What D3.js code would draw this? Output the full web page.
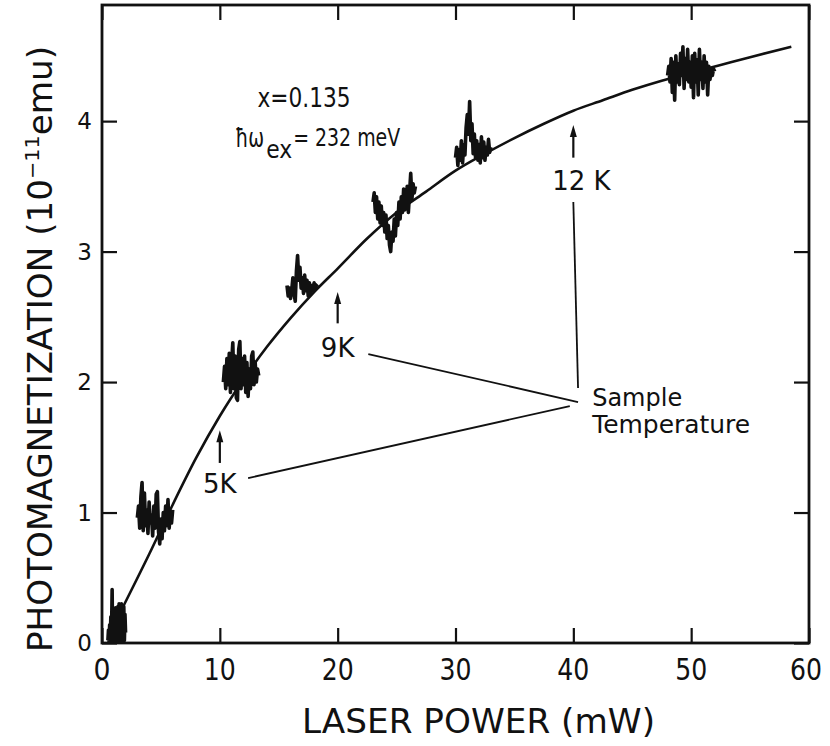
<!DOCTYPE html>
<html>
<head>
<meta charset="utf-8">
<script src="https://cdn.jsdelivr.net/npm/d3@7"></script>
<style>
    body { margin: 0; background: #fff; }
    text { font-family: "DejaVu Sans", sans-serif; fill: #111; }
</style>
</head>
<body>
<script>

    // axis ticks
    var xTicks = [0, 10, 20, 30, 40, 50, 60];
    var yTicks = [0, 1, 2, 3, 4];

    // smooth fitted curve (laser power mW, photomagnetization 1e-11 emu)
    var curveX = [1.8, 4, 6, 8, 10, 12, 14, 16, 18, 20, 22.5, 25, 27.5, 30, 32.5, 35, 37.5, 40, 42.5, 45, 47.5, 50, 52.5, 55, 58.5];
    var curveY = [0.28, 0.68, 1.06, 1.42, 1.74, 2.02, 2.27, 2.49, 2.69, 2.87, 3.10, 3.30, 3.46, 3.62, 3.75, 3.87, 3.98, 4.08, 4.16, 4.24, 4.31, 4.37, 4.43, 4.49, 4.57];

    // noisy measured traces, one per laser power
    var trace1X = [0.5, 0.55, 0.6, 0.65, 0.7, 0.75, 0.8, 0.86, 0.9, 0.95, 1.0, 1.05, 1.1, 1.15, 1.2, 1.25, 1.3, 1.35, 1.4, 1.45, 1.5, 1.55, 1.6, 1.65, 1.7, 1.75, 1.8, 1.85, 1.9, 1.95, 2.0];
    var trace1Y = [0.02, 0.1, 0.01, 0.14, 0.03, 0.2, 0.02, 0.41, 0.04, 0.22, 0.02, 0.24, 0.01, 0.27, 0.03, 0.25, 0.02, 0.28, 0.01, 0.3, 0.03, 0.27, 0.02, 0.3, 0.01, 0.26, 0.03, 0.28, 0.02, 0.22, 0.08];

    var trace2X = [3.0, 3.1, 3.2, 3.3, 3.4, 3.5, 3.6, 3.7, 3.8, 3.9, 4.0, 4.1, 4.2, 4.3, 4.4, 4.5, 4.6, 4.7, 4.8, 4.9, 5.0, 5.1, 5.2, 5.3, 5.4, 5.5, 5.6, 5.7, 5.8, 5.9, 6.0];
    var trace2Y = [0.96, 1.05, 0.88, 1.12, 1.23, 0.86, 1.15, 0.9, 1.02, 0.84, 1.08, 0.92, 0.98, 0.82, 1.05, 0.88, 1.14, 1.16, 0.85, 0.76, 0.95, 0.8, 1.0, 0.86, 1.05, 0.9, 1.1, 0.88, 1.0, 0.92, 1.02];

    var trace3X = [10.3, 10.4, 10.5, 10.6, 10.7, 10.8, 10.9, 11.0, 11.1, 11.2, 11.3, 11.4, 11.5, 11.6, 11.7, 11.8, 11.9, 12.0, 12.1, 12.2, 12.3, 12.4, 12.5, 12.6, 12.7, 12.8, 12.9, 13.0, 13.1, 13.2, 13.3];
    var trace3Y = [2.0, 2.12, 1.95, 2.18, 1.98, 2.22, 1.92, 2.15, 2.3, 1.95, 2.2, 1.88, 1.86, 2.25, 2.31, 1.95, 2.18, 1.98, 2.2, 1.92, 2.15, 1.89, 2.1, 1.95, 2.2, 2.23, 1.98, 2.15, 2.0, 2.1, 2.05];

    var trace4X = [15.7, 15.8, 15.9, 16.0, 16.1, 16.2, 16.3, 16.4, 16.5, 16.6, 16.7, 16.8, 16.9, 17.0, 17.1, 17.2, 17.3, 17.4, 17.5, 17.6, 17.7, 17.8, 17.9, 18.0, 18.1, 18.2, 18.3];
    var trace4Y = [2.74, 2.66, 2.72, 2.64, 2.7, 2.8, 2.68, 2.62, 2.85, 2.97, 2.78, 2.88, 2.72, 2.8, 2.68, 2.82, 2.7, 2.78, 2.66, 2.76, 2.68, 2.74, 2.7, 2.76, 2.72, 2.74, 2.75];

    var trace5X = [23.0, 23.1, 23.2, 23.3, 23.4, 23.5, 23.6, 23.7, 23.8, 23.9, 24.0, 24.1, 24.2, 24.3, 24.4, 24.5, 24.6, 24.7, 24.8, 24.9, 25.0, 25.1, 25.2, 25.3, 25.4, 25.5, 25.6, 25.7, 25.8, 25.9, 26.0, 26.1, 26.2, 26.3, 26.4, 26.5, 26.6];
    var trace5Y = [3.38, 3.45, 3.3, 3.42, 3.25, 3.38, 3.22, 3.35, 3.2, 3.3, 3.15, 3.28, 3.1, 3.2, 3.05, 3.0, 3.15, 3.08, 3.25, 3.12, 3.3, 3.2, 3.38, 3.25, 3.42, 3.3, 3.48, 3.32, 3.35, 3.5, 3.3, 3.45, 3.6, 3.4, 3.52, 3.45, 3.5];

    var trace6X = [30.0, 30.1, 30.2, 30.3, 30.4, 30.5, 30.6, 30.7, 30.8, 30.9, 31.0, 31.1, 31.2, 31.3, 31.4, 31.5, 31.6, 31.7, 31.8, 31.9, 32.0, 32.1, 32.2, 32.3, 32.4, 32.5, 32.6, 32.7, 32.8, 32.9, 33.0];
    var trace6Y = [3.72, 3.8, 3.66, 3.78, 3.7, 3.85, 3.68, 3.82, 3.74, 3.95, 4.05, 3.9, 4.15, 3.85, 3.98, 3.75, 3.9, 3.72, 3.85, 3.7, 3.82, 3.68, 3.88, 3.72, 3.84, 3.7, 3.8, 3.74, 3.86, 3.76, 3.8];

    var trace7X = [48.0, 48.1, 48.2, 48.3, 48.4, 48.5, 48.6, 48.7, 48.8, 48.9, 49.0, 49.1, 49.2, 49.3, 49.4, 49.5, 49.6, 49.7, 49.8, 49.9, 50.0, 50.1, 50.2, 50.3, 50.4, 50.5, 50.6, 50.7, 50.8, 50.9, 51.0, 51.1, 51.2, 51.3, 51.4, 51.5, 51.6, 51.7, 51.8, 51.9, 52.0];
    var trace7Y = [4.35, 4.42, 4.3, 4.48, 4.22, 4.45, 4.16, 4.5, 4.3, 4.44, 4.28, 4.52, 4.35, 4.57, 4.25, 4.48, 4.32, 4.55, 4.3, 4.45, 4.26, 4.5, 4.18, 4.52, 4.3, 4.47, 4.2, 4.55, 4.32, 4.45, 4.25, 4.5, 4.3, 4.45, 4.2, 4.42, 4.32, 4.4, 4.35, 4.4, 4.38];

    // sample temperature markers
    var tempLabels = ["5K", "9K", "12 K"];
    var tempPower = [10, 20, 40];
    var arrowTail = [1.38, 2.45, 3.72];
    var arrowTip = [1.63, 2.69, 3.97];

    var margin = {top: 5, left: 102, right: 21, bottom: 103},
        width = 830 - margin.left - margin.right,
        height = 746 - margin.top - margin.bottom;

    var svg = d3.select("body").append("svg")
        .attr("width", 830)
        .attr("height", 746);

    var g = svg.append("g")
        .attr("transform", "translate(" + margin.left + "," + margin.top + ")");

    var x = d3.scaleLinear().domain([0, 60]).range([0, width]);
    var y = d3.scaleLinear().domain([0, 4.89]).range([height, 0]);

    var tickLen = 15;

    // inward ticks on all four sides
    g.append("g")
        .attr("transform", "translate(0," + height + ")")
        .call(d3.axisTop(x).tickValues(xTicks).tickSize(tickLen).tickSizeOuter(0).tickFormat(""));
    g.append("g")
        .call(d3.axisBottom(x).tickValues(xTicks).tickSize(tickLen).tickSizeOuter(0).tickFormat(""));
    g.append("g")
        .call(d3.axisRight(y).tickValues(yTicks).tickSize(tickLen).tickSizeOuter(0).tickFormat(""));
    g.append("g")
        .attr("transform", "translate(" + width + ",0)")
        .call(d3.axisLeft(y).tickValues(yTicks).tickSize(tickLen).tickSizeOuter(0).tickFormat(""));

    g.selectAll(".domain").remove();
    g.selectAll(".tick line").attr("stroke", "#111").attr("stroke-width", 2.2);

    g.append("rect")
        .attr("width", width)
        .attr("height", height)
        .attr("fill", "none")
        .attr("stroke", "#111")
        .attr("stroke-width", 2.8);

    // tick labels
    g.selectAll(".xlab")
        .data(xTicks)
        .enter().append("text")
        .attr("x", function (d) { return x(d) - (d === 60 ? 3 : 0); })
        .attr("y", height + 37)
        .attr("text-anchor", "middle")
        .attr("font-size", "31px")
        .attr("textLength", function (d) { return d === 0 ? 17 : 32; })
        .attr("lengthAdjust", "spacingAndGlyphs")
        .text(function (d) { return d; });

    g.selectAll(".ylab")
        .data(yTicks)
        .enter().append("text")
        .attr("x", -10)
        .attr("y", function (d) { return y(d) + 8; })
        .attr("text-anchor", "end")
        .attr("font-size", "23px")
        .text(function (d) { return d; });

    // axis titles
    svg.append("text")
        .attr("x", 302)
        .attr("y", 733)
        .attr("font-size", "33px")
        .attr("textLength", 353)
        .attr("lengthAdjust", "spacingAndGlyphs")
        .text("LASER POWER (mW)");

    var ytitle = svg.append("text")
        .attr("transform", "translate(52,652) rotate(-90)")
        .attr("font-size", "33px")
        .attr("textLength", 606)
        .attr("lengthAdjust", "spacingAndGlyphs");
    ytitle.append("tspan").text("PHOTOMAGNETIZATION (10");
    ytitle.append("tspan").attr("dy", -13).attr("font-size", "20px").text("−11");
    ytitle.append("tspan").attr("dy", 13).text("emu)");

    // fitted curve
    var line = d3.line()
        .x(function (d) { return x(d[0]); })
        .y(function (d) { return y(d[1]); })
        .curve(d3.curveMonotoneX);

    g.append("path")
        .datum(d3.zip(curveX, curveY))
        .attr("fill", "none")
        .attr("stroke", "#111")
        .attr("stroke-width", 2.6)
        .attr("d", line);

    // noisy traces
    var traces = [
        [trace1X, trace1Y], [trace2X, trace2Y], [trace3X, trace3Y], [trace4X, trace4Y],
        [trace5X, trace5Y], [trace6X, trace6Y], [trace7X, trace7Y]
    ];
    var rawLine = d3.line()
        .x(function (d) { return x(d[0]); })
        .y(function (d) { return y(d[1]); });

    g.selectAll(".trace")
        .data(traces)
        .enter().append("path")
        .attr("class", "trace")
        .attr("fill", "none")
        .attr("stroke", "#111")
        .attr("stroke-width", 3.6)
        .attr("stroke-linejoin", "round")
        .attr("d", function (d) { return rawLine(d3.zip(d[0], d[1])); });

    // temperature arrows
    tempPower.forEach(function (p, i) {
        var xp = x(p), y0 = y(arrowTail[i]), y1 = y(arrowTip[i]);
        g.append("line")
            .attr("x1", xp).attr("x2", xp)
            .attr("y1", y0).attr("y2", y1 + 8)
            .attr("stroke", "#111").attr("stroke-width", 2.2);
        g.append("path")
            .attr("d", "M" + xp + "," + y1 + "L" + (xp - 3.5) + "," + (y1 + 12) + "L" + (xp + 3.5) + "," + (y1 + 12) + "Z")
            .attr("fill", "#111");
    });

    var labelY = [1.15, 2.19, 3.47];
    g.selectAll(".tlab")
        .data(tempLabels)
        .enter().append("text")
        .attr("x", function (d, i) { return x(tempPower[i]) + (i === 2 ? 8 : 0); })
        .attr("y", function (d, i) { return y(labelY[i]); })
        .attr("text-anchor", "middle")
        .attr("font-size", "26px")
        .text(function (d) { return d; });

    // leader lines to "Sample Temperature"
    var leaders = [
        [[12.4, 1.264], [39.7, 1.816]],
        [[22.6, 2.215], [40.4, 1.847]],
        [[40.0, 3.38], [40.4, 1.954]]
    ];
    g.selectAll(".leader")
        .data(leaders)
        .enter().append("line")
        .attr("x1", function (d) { return x(d[0][0]); })
        .attr("y1", function (d) { return y(d[0][1]); })
        .attr("x2", function (d) { return x(d[1][0]); })
        .attr("y2", function (d) { return y(d[1][1]); })
        .attr("stroke", "#111")
        .attr("stroke-width", 1.8);

    g.append("text")
        .attr("x", x(41.6)).attr("y", y(1.82))
        .attr("font-size", "25px")
        .attr("textLength", 90)
        .attr("lengthAdjust", "spacingAndGlyphs")
        .text("Sample");
    g.append("text")
        .attr("x", x(41.6)).attr("y", y(1.61))
        .attr("font-size", "25px")
        .attr("textLength", 158)
        .attr("lengthAdjust", "spacingAndGlyphs")
        .text("Temperature");

    // sample parameters
    g.append("text")
        .attr("x", x(13.2)).attr("y", y(4.11))
        .attr("font-size", "27px")
        .attr("textLength", 93)
        .attr("lengthAdjust", "spacingAndGlyphs")
        .text("x=0.135");

    var hx = x(11.3), hy = y(3.80);
    g.append("text")
        .attr("x", hx).attr("y", hy)
        .attr("font-size", "27px")
        .attr("textLength", 29)
        .attr("lengthAdjust", "spacingAndGlyphs")
        .text("ħω");
    g.append("text")
        .attr("x", hx + 31).attr("y", hy + 11)
        .attr("font-size", "25px")
        .attr("textLength", 26)
        .attr("lengthAdjust", "spacingAndGlyphs")
        .text("ex");
    g.append("text")
        .attr("x", hx + 58).attr("y", hy - 1)
        .attr("font-size", "25px")
        .attr("textLength", 107)
        .attr("lengthAdjust", "spacingAndGlyphs")
        .text("= 232 meV");

</script>
</body>
</html>
